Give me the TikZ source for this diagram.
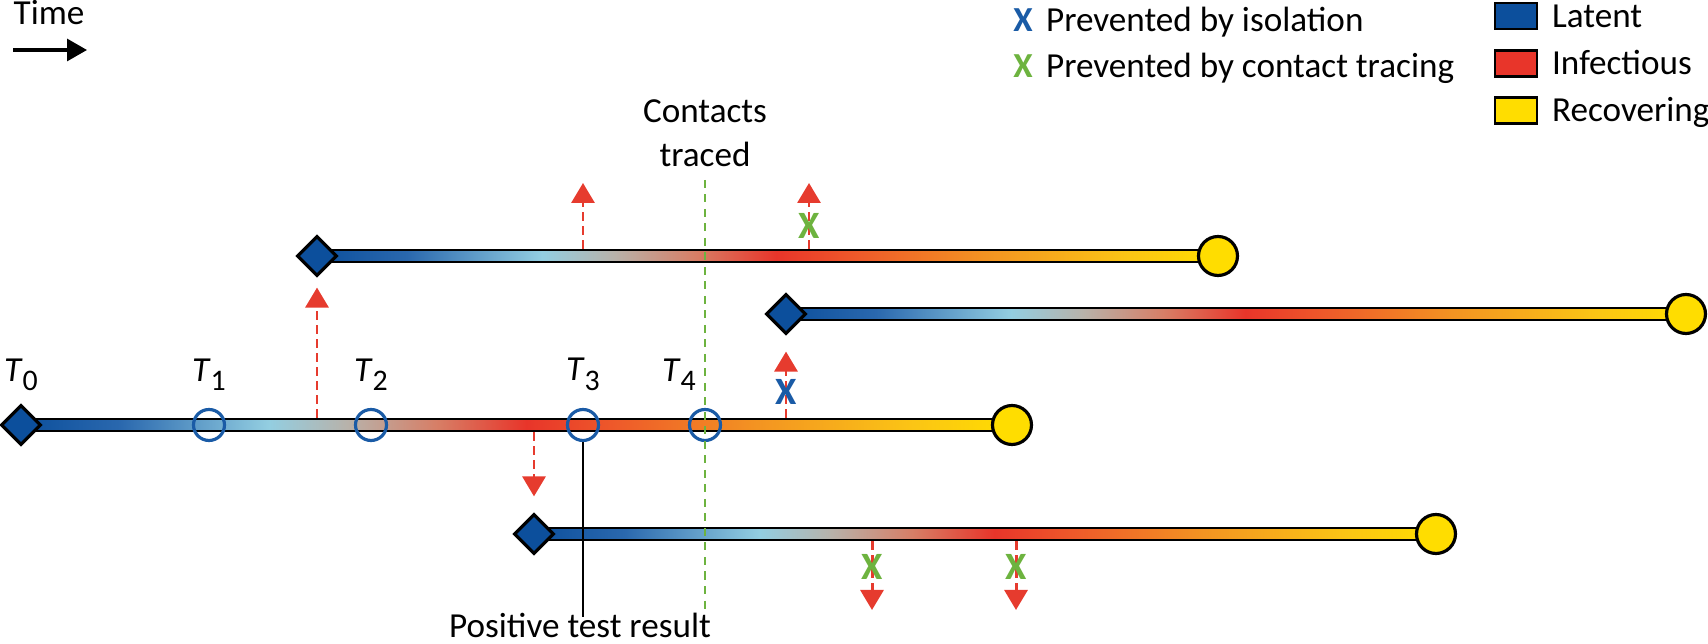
\documentclass[tikz,border=0pt]{standalone}
\usepackage{fontspec}
\setmainfont{Carlito}
\usepackage{tikz}
\usetikzlibrary{positioning,arrows.meta,shapes.geometric,backgrounds}

\definecolor{latentc}{HTML}{0C4F9C}
\definecolor{latentb}{HTML}{2A68AE}
\definecolor{skyc}{HTML}{93CEE1}
\definecolor{greyc}{HTML}{B8B2AA}
\definecolor{salmonc}{HTML}{D77E66}
\definecolor{infectc}{HTML}{E8352A}
\definecolor{redorc}{HTML}{EE5A2A}
\definecolor{orangec}{HTML}{F39322}
\definecolor{yelorc}{HTML}{FBC515}
\definecolor{recovc}{HTML}{FFDD00}
\definecolor{isoblue}{HTML}{1A5BA6}
\definecolor{tracegreen}{HTML}{6DB33F}
\definecolor{spreadred}{HTML}{E63B2E}

\pgfdeclarehorizontalshading{lifespan}{100bp}{color(0bp)=(latentc); color(25bp)=(latentc); color(30bp)=(latentb); color(37.5bp)=(skyc); color(41.5bp)=(greyc); color(46bp)=(salmonc); color(50.5bp)=(infectc); color(55bp)=(redorc); color(62bp)=(orangec); color(70bp)=(yelorc); color(75bp)=(recovc); color(100bp)=(recovc)}

\newcommand{\tlab}[1]{\textit{T}\raisebox{-2.6pt}{\fontsize{8.5}{10}\selectfont #1}}

\begin{document}
\begin{tikzpicture}[font=\fontsize{10}{12.5}\selectfont,
  bar/.style={draw=black, line width=0.8pt, shade, shading=lifespan},
  birth/.style={diamond, minimum width=0.4cm, minimum height=0.4cm, inner sep=0pt, fill=latentc, draw=black, line width=0.9pt},
  endpt/.style={circle, minimum size=0.39cm, inner sep=0pt, fill=recovc, draw=black, line width=0.9pt},
  tmark/.style={circle, minimum size=0.31cm, inner sep=0pt, draw=isoblue, line width=0.9pt},
  tlabel/.style={inner sep=0pt},
  spread/.style={color=spreadred, line width=0.85pt, dash pattern=on 0.09cm off 0.05cm, -{Triangle[width=0.23cm,length=0.2cm]}},
  blocked/.style={font=\bfseries, inner sep=0pt, text height=6.4pt, text depth=0pt},
  bigblocked/.style={font=\fontsize{11}{13}\selectfont\bfseries, inner sep=0pt, text height=7pt, text depth=0pt},
  traceline/.style={color=tracegreen, line width=0.75pt, dash pattern=on 0.08cm off 0.065cm},
  testline/.style={color=black, line width=0.75pt},
  timeline/.style={color=black, line width=0.9pt, -{Triangle[width=0.22cm,length=0.2cm]}},
  keybox/.style={draw=black, line width=0.8pt, minimum width=0.42cm, minimum height=0.26cm, inner sep=0pt},
  keytext/.style={inner sep=0pt, text height=6.4pt, text depth=0pt}]

  \useasboundingbox (0,0) rectangle (17.08,6.44);

  \node[birth] (d0) at (0.21,2.19) {};
  \node[endpt] (c0) at (10.12,2.19) {};
  \node[birth] (d1) at (3.17,3.88) {};
  \node[endpt] (c1) at (12.18,3.88) {};
  \node[birth] (d2) at (7.86,3.30) {};
  \node[endpt] (c2) at (16.86,3.30) {};
  \node[birth] (d3) at (5.34,1.10) {};
  \node[endpt] (c3) at (14.36,1.10) {};

  \begin{pgfonlayer}{background}
    \path[bar] ([yshift=0.06cm]d0.center) rectangle ([yshift=-0.06cm]c0.center);
    \path[bar] ([yshift=0.06cm]d1.center) rectangle ([yshift=-0.06cm]c1.center);
    \path[bar] ([yshift=0.06cm]d2.center) rectangle ([yshift=-0.06cm]c2.center);
    \path[bar] ([yshift=0.06cm]d3.center) rectangle ([yshift=-0.06cm]c3.center);
  \end{pgfonlayer}

  \node[tmark] (tc1) at (2.09,2.19) {};
  \node[tmark] (tc2) at (3.71,2.19) {};
  \node[tmark] (tc3) at (5.83,2.19) {};
  \node[tmark] (tc4) at (7.05,2.19) {};

  \node[tlabel] (l0) [above=0.12cm of d0] {\tlab{0}};
  \node[tlabel] (l1) [above=0.17cm of tc1] {\tlab{1}};
  \node[tlabel] (l2) [above=0.17cm of tc2] {\tlab{2}};
  \node[tlabel] (l3) [above=0.17cm of tc3] {\tlab{3}};
  \node[tlabel] (l4) [above=0.17cm of tc4, xshift=-0.26cm] {\tlab{4}};

  \coordinate (b1) at (3.17,2.264);
  \coordinate (b2) at (7.86,2.264);
  \coordinate (b3) at (5.34,2.116);
  \coordinate (i1) at (5.83,3.954);
  \coordinate (o1) at (5.83,4.61);
  \coordinate (i2) at (8.09,3.954);
  \coordinate (o2) at (8.09,4.61);
  \coordinate (i3) at (8.72,1.026);
  \coordinate (o3) at (8.72,0.34);
  \coordinate (i4) at (10.16,1.026);
  \coordinate (o4) at (10.16,0.34);

  \draw[spread, shorten >=0.1cm] (b1) -- (d1.south);
  \draw[spread, shorten >=0.16cm] (b2) -- (d2.south);
  \draw[spread, shorten >=0.16cm] (b3) -- (d3.north);
  \draw[spread] (i1) -- (o1);
  \draw[spread] (i2) -- (o2);
  \draw[spread] (i3) -- (o3);
  \draw[spread] (i4) -- (o4);

  \node[bigblocked, isoblue] (x1) at (7.86,2.52) {X};
  \node[bigblocked, tracegreen] (x2) at (8.09,4.18) {X};
  \node[bigblocked, tracegreen] (x3) at (8.72,0.77) {X};
  \node[bigblocked, tracegreen] (x4) at (10.16,0.77) {X};

  \node[] (traced) [align=center, anchor=south, inner sep=0pt] at (7.05,4.77) {Contacts\\traced};
  \coordinate (trend) at (7.05,0.34);
  \draw[traceline, shorten <=0.13cm] (traced.south) -- (trend);

  \node[] (postest) [anchor=base, inner sep=0pt] at (5.80,0.06) {Positive test result};
  \draw[testline, shorten >=-0.04cm] (tc3.south) -- (tc3.south |- postest.north);

  \node[] (time) [anchor=base west, inner sep=0pt] at (0.13,6.19) {Time};
  \coordinate (tstart) at (0.13,5.94);
  \coordinate (tend) at (0.87,5.94);
  \draw[timeline] (tstart) -- (tend);

  \node[blocked, isoblue] (kx1) at (10.23,6.24) {X};
  \node[keytext] (kt1) [right=0.12cm of kx1] {Prevented by isolation};
  \node[blocked, tracegreen] (kx2) at (10.23,5.775) {X};
  \node[keytext] (kt2) [right=0.12cm of kx2] {Prevented by contact tracing};

  \node[keybox, fill=latentc] (k1) at (15.16,6.28) {};
  \node[keytext] (kl1) [right=0.13cm of k1] {Latent};
  \node[keybox, fill=infectc] (k2) [below=0.185cm of k1] {};
  \node[keytext] (kl2) [right=0.13cm of k2] {Infectious};
  \node[keybox, fill=recovc] (k3) [below=0.185cm of k2] {};
  \node[keytext] (kl3) [right=0.13cm of k3] {Recovering};

\end{tikzpicture}
\end{document}
